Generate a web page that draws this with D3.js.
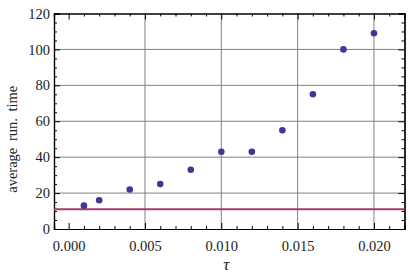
<!DOCTYPE html>
<html>
<head>
<meta charset="utf-8">
<script src="https://cdn.jsdelivr.net/npm/d3@7"></script>
<style>
  body { margin: 0; background: #fff; }
  #chart { width: 410px; height: 280px; }
  text { font-family: "Liberation Serif", "DejaVu Serif", serif; }
</style>
</head>
<body>
<div id="chart"></div>
<script>
//Datos
const tau = [0.001, 0.002, 0.004, 0.006, 0.008, 0.010, 0.012, 0.014, 0.016, 0.018, 0.020];
const runTime = [13, 16, 22, 25, 33, 43, 43, 55, 75, 100, 109];
const baseline = 11;
const xTicks = [0.000, 0.005, 0.010, 0.015, 0.020];
const yTicks = [0, 20, 40, 60, 80, 100, 120];

const COLOR_POINT = '#3a3a96',
      COLOR_LINE = '#9b3e72',
      COLOR_GRID = '#808080';

let margin = {top: 13.5, right: 5.5, bottom: 51, left: 54},
    width = 410 - margin.left - margin.right,
    height = 280 - margin.top - margin.bottom;

let svg = d3.select('#chart')
    .append('svg')
        .attr('width', 410)
        .attr('height', 280)
    .append('g')
        .attr('transform', 'translate(' + margin.left + ',' + margin.top + ')');

let x = d3.scaleLinear()
    .domain([-0.00096, 0.022])
    .range([0, width]);

let y = d3.scaleLinear()
    .domain([0, 120])
    .range([height, 0]);

//Rejilla
svg.append('g')
    .selectAll('line')
    .data(xTicks.filter(d => d > 0))
    .enter()
    .append('line')
    .attr('x1', d => x(d)).attr('x2', d => x(d))
    .attr('y1', 0).attr('y2', height)
    .attr('stroke', COLOR_GRID)
    .attr('stroke-width', 1);

svg.append('g')
    .selectAll('line')
    .data(yTicks.filter(d => d > 0 && d < 120))
    .enter()
    .append('line')
    .attr('x1', 0).attr('x2', width)
    .attr('y1', d => y(d)).attr('y2', d => y(d))
    .attr('stroke', COLOR_GRID)
    .attr('stroke-width', 1);

//Ejes (marco con ticks en los cuatro lados)
let xMinor = d3.range(-0, 0.0225, 0.001).filter(d => !xTicks.some(t => Math.abs(t - d) < 1e-9));
let yMinor = d3.range(0, 121, 5).filter(d => d % 20 !== 0);

function frameAxis(axisFn, scale, major, minor, transform, labels) {
    let gMaj = svg.append('g')
        .attr('transform', transform)
        .call(axisFn(scale).tickValues(major).tickSize(6)
            .tickFormat(labels ? (scale === x ? d3.format('.3f') : d3.format('d')) : ''));
    let gMin = svg.append('g')
        .attr('transform', transform)
        .call(axisFn(scale).tickValues(minor).tickSize(3).tickFormat(''));
    [gMaj, gMin].forEach(g => {
        g.select('.domain').attr('stroke', '#000').attr('stroke-width', 1.2);
        g.selectAll('.tick line').attr('stroke', '#000');
    });
    gMaj.selectAll('.tick text')
        .attr('font-size', 14.5)
        .attr('fill', '#222')
        .attr('font-family', '"Liberation Serif", serif');
    return gMaj;
}

let xb = frameAxis(d3.axisTop, x, xTicks, xMinor, 'translate(0,' + height + ')', true);
xb.selectAll('.tick text').attr('dy', null).attr('y', 22);
frameAxis(d3.axisBottom, x, xTicks, xMinor, 'translate(0,0)', false);
let yl = frameAxis(d3.axisRight, y, yTicks, yMinor, 'translate(0,0)', true);
yl.selectAll('.tick text').attr('x', -4).attr('text-anchor', 'end');
frameAxis(d3.axisLeft, y, yTicks, yMinor, 'translate(' + width + ',0)', false);

//Línea de referencia
svg.append('line')
    .attr('x1', 0).attr('x2', width)
    .attr('y1', y(baseline)).attr('y2', y(baseline))
    .attr('stroke', COLOR_LINE)
    .attr('stroke-width', 2);

//Puntos
svg.append('g')
    .selectAll('circle')
    .data(tau.map((t, i) => ({t: t, v: runTime[i]})))
    .enter()
    .append('circle')
    .attr('cx', d => x(d.t))
    .attr('cy', d => y(d.v))
    .attr('r', 3.3)
    .attr('fill', COLOR_POINT);

//Títulos de ejes
svg.append('text')
    .attr('x', width / 2 - 3)
    .attr('y', height + 41)
    .attr('text-anchor', 'middle')
    .attr('font-style', 'italic')
    .attr('font-size', 17)
    .attr('fill', '#222')
    .text('τ');

svg.append('text')
    .attr('transform', 'translate(' + (-37) + ',' + (height / 2 + 18) + ') rotate(-90)')
    .attr('text-anchor', 'middle')
    .attr('font-size', 14.5)
    .attr('word-spacing', 3)
    .attr('fill', '#222')
    .text('average run. time');
</script>
</body>
</html>
